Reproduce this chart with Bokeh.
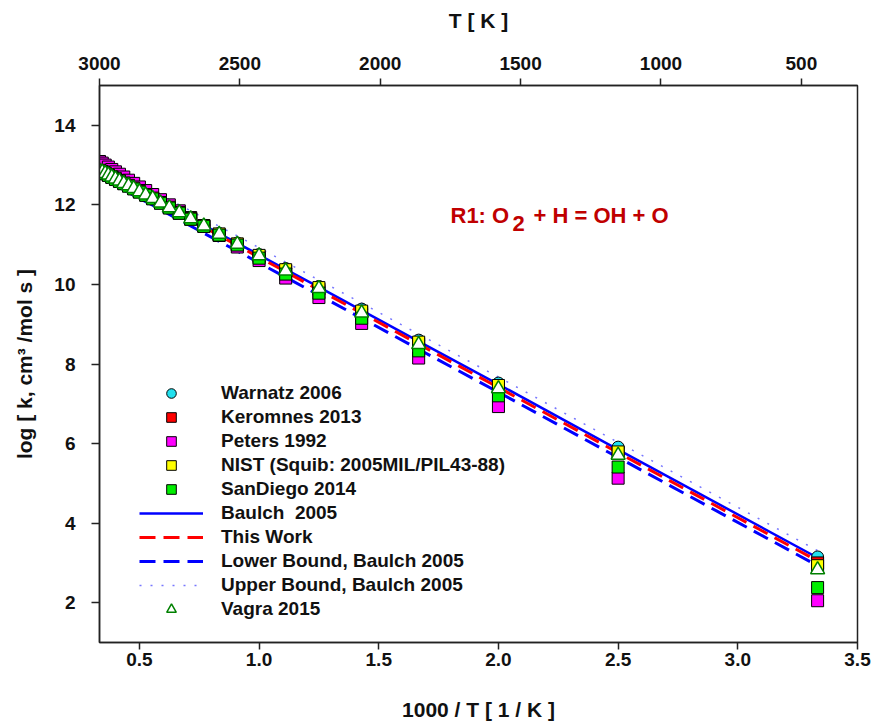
from bokeh.plotting import figure
from bokeh.models import (Range1d, LinearAxis, FixedTicker, Legend, LegendItem,
                          Label, PrintfTickFormatter)
from bokeh.embed import file_html
from bokeh.resources import INLINE

# ---------------- data ----------------
T_K = [3000, 2900, 2800, 2700, 2600, 2500, 2400, 2300, 2200, 2100, 2000,
       1900, 1800, 1700, 1600, 1500, 1400, 1300, 1200, 1100, 1000,
       900, 800, 700, 600, 500, 400, 300]

baulch = [12.88, 12.85, 12.81, 12.77, 12.72, 12.67, 12.62, 12.56, 12.50, 12.43, 12.35,
          12.27, 12.18, 12.07, 11.95, 11.82, 11.67, 11.49, 11.28, 11.04, 10.74,
          10.38, 9.93, 9.35, 8.57, 7.49, 5.85, 3.13]
this_work = [12.84, 12.81, 12.77, 12.73, 12.68, 12.63, 12.58, 12.52, 12.46, 12.39, 12.31,
             12.23, 12.14, 12.03, 11.91, 11.77, 11.62, 11.44, 11.23, 10.98, 10.68,
             10.32, 9.86, 9.28, 8.50, 7.41, 5.77, 3.05]
lower_bound = [12.70, 12.67, 12.63, 12.59, 12.54, 12.49, 12.44, 12.38, 12.31, 12.24, 12.16,
               12.08, 11.99, 11.88, 11.76, 11.62, 11.47, 11.29, 11.08, 10.84, 10.54,
               10.18, 9.73, 9.15, 8.37, 7.29, 5.65, 2.93]
upper_bound = [13.06, 13.03, 12.99, 12.95, 12.90, 12.85, 12.80, 12.74, 12.68, 12.61, 12.53,
               12.45, 12.36, 12.25, 12.13, 12.00, 11.85, 11.67, 11.46, 11.22, 10.92,
               10.56, 10.11, 9.53, 8.75, 7.67, 6.03, 3.31]

warnatz = [12.88, 12.85, 12.81, 12.77, 12.72, 12.67, 12.62, 12.56, 12.50, 12.43, 12.35,
           12.27, 12.18, 12.07, 11.95, 11.82, 11.67, 11.49, 11.28, 11.04, 10.75,
           10.40, 9.95, 9.38, 8.60, 7.52, 5.91, 3.15]
keromnes = [12.86, 12.83, 12.79, 12.75, 12.70, 12.65, 12.60, 12.54, 12.48, 12.41, 12.33,
            12.25, 12.16, 12.05, 11.93, 11.79, 11.64, 11.46, 11.25, 11.00, 10.70,
            10.34, 9.88, 9.30, 8.51, 7.42, 5.77, 3.00]
peters = [13.09, 13.05, 13.00, 12.95, 12.89, 12.83, 12.77, 12.70, 12.62, 12.54, 12.45,
          12.36, 12.26, 12.13, 12.00, 11.85, 11.68, 11.47, 11.23, 10.94, 10.60,
          10.16, 9.67, 9.02, 8.15, 6.93, 5.13, 2.05]
nist = [12.87, 12.84, 12.80, 12.76, 12.71, 12.66, 12.61, 12.55, 12.49, 12.42, 12.34,
        12.26, 12.17, 12.06, 11.94, 11.81, 11.66, 11.48, 11.27, 11.02, 10.73,
        10.37, 9.92, 9.33, 8.55, 7.46, 5.79, 2.93]
sandiego = [12.85, 12.82, 12.78, 12.74, 12.69, 12.64, 12.59, 12.53, 12.47, 12.40, 12.32,
            12.24, 12.15, 12.04, 11.92, 11.79, 11.64, 11.46, 11.24, 10.99, 10.66,
            10.26, 9.78, 9.15, 8.33, 7.20, 5.41, 2.38]
vagra = [12.86, 12.83, 12.79, 12.75, 12.70, 12.65, 12.60, 12.54, 12.48, 12.41, 12.33,
         12.25, 12.16, 12.05, 11.93, 11.80, 11.65, 11.47, 11.26, 11.01, 10.72,
         10.34, 9.90, 9.28, 8.49, 7.38, 5.71, 2.83]

x_ticks = [0.5, 1.0, 1.5, 2.0, 2.5, 3.0, 3.5]
y_ticks = [2, 4, 6, 8, 10, 12, 14]
t_ticks = [3000, 2500, 2000, 1500, 1000, 500]

inv_T = [1000.0 / t for t in T_K]

FONT = "Liberation Sans"

p = figure(width=873, height=723, x_range=Range1d(1000.0 / 3000.0, 3.5),
           y_range=Range1d(1, 15), output_backend="svg", toolbar_location=None,
           min_border_left=99, min_border_right=16, min_border_top=85,
           min_border_bottom=81, background_fill_color="white")
p.xgrid.visible = False
p.ygrid.visible = False
p.outline_line_color = "#222222"
p.outline_line_width = 1.5

p.extra_x_ranges = {"T": Range1d(3000, 300)}


def style_axis(ax, tick_out):
    ax.axis_line_color = "#222222"
    ax.axis_line_width = 1.5
    ax.major_tick_line_color = "#222222"
    ax.major_tick_line_width = 1.5
    ax.major_tick_out = tick_out
    ax.major_tick_in = 0
    ax.minor_tick_line_color = None
    ax.major_label_text_font = FONT
    ax.major_label_text_font_style = "bold"
    ax.major_label_text_font_size = "19px"
    ax.major_label_text_color = "#111111"
    ax.axis_label_text_font = FONT
    ax.axis_label_text_font_style = "bold"
    ax.axis_label_text_font_size = "21px"
    ax.axis_label_text_color = "#111111"


xb = p.below[0]
xb.ticker = FixedTicker(ticks=x_ticks)
xb.formatter = PrintfTickFormatter(format="%.1f")
xb.axis_label = "1000 / T [ 1 / K ]"
style_axis(xb, 7)
xb.major_label_standoff = 3
xb.axis_label_standoff = 29

yl = p.left[0]
yl.ticker = FixedTicker(ticks=y_ticks)
yl.axis_label = "log [ k, cm\u00b3 /mol s ]"
style_axis(yl, 8)
yl.major_label_standoff = 16
yl.axis_label_standoff = 15

top = LinearAxis(x_range_name="T", ticker=FixedTicker(ticks=t_ticks),
                 axis_label="T [ K ]")
style_axis(top, 7)
top.major_label_standoff = 9
top.axis_label_standoff = 22
p.add_layout(top, "above")

# ---------------- lines ----------------
r_baulch = p.line(inv_T, baulch, line_color="#0000ff", line_width=2.5)
r_this = p.line(inv_T, this_work, line_color="#ff0000", line_width=3, line_dash="16 8")
r_low = p.line(inv_T, lower_bound, line_color="#0000ff", line_width=3, line_dash="16 8")
r_up = p.line(inv_T, upper_bound, line_color="#7777ff", line_width=1.5, line_dash="2 9")

# ---------------- markers ----------------
r_w = p.scatter(inv_T, warnatz, marker="circle", size=12, fill_color="#22e0ee",
                line_color="black", line_width=1)
r_k = p.scatter(inv_T, keromnes, marker="square", size=12, fill_color="#ff0000",
                line_color="black", line_width=1)
r_p = p.scatter(inv_T, peters, marker="square", size=12, fill_color="#ff00ff",
                line_color="black", line_width=1)
r_n = p.scatter(inv_T, nist, marker="square", size=12, fill_color="#ffff00",
                line_color="black", line_width=1)
r_s = p.scatter(inv_T, sandiego, marker="square", size=12, fill_color="#00ee00",
                line_color="black", line_width=1)
r_v = p.scatter(inv_T, vagra, marker="triangle", size=14, fill_color="white",
                line_color="#008000", line_width=1.5)

items = [
    LegendItem(label="Warnatz 2006", renderers=[r_w]),
    LegendItem(label="Keromnes 2013", renderers=[r_k]),
    LegendItem(label="Peters 1992", renderers=[r_p]),
    LegendItem(label="NIST (Squib: 2005MIL/PIL43-88)", renderers=[r_n]),
    LegendItem(label="SanDiego 2014", renderers=[r_s]),
    LegendItem(label="Baulch  2005", renderers=[r_baulch]),
    LegendItem(label="This Work", renderers=[r_this]),
    LegendItem(label="Lower Bound, Baulch 2005", renderers=[r_low]),
    LegendItem(label="Upper Bound, Baulch 2005", renderers=[r_up]),
    LegendItem(label="Vagra 2015", renderers=[r_v]),
]
legend = Legend(items=items, location=(40, 21), padding=0, margin=0,
                glyph_width=64, glyph_height=24, label_height=24, spacing=0,
                label_standoff=18, label_text_font=FONT,
                label_text_font_style="bold", label_text_font_size="19px",
                label_text_color="#111111", background_fill_alpha=0,
                border_line_alpha=0)
p.add_layout(legend)

# ---------------- reaction title ----------------
TITLE_RED = "#c00000"
for txt, sx, sy in [("R1: O", 351, 427), ("2", 413, 419), ("+ H = OH + O", 434, 427)]:
    p.add_layout(Label(x=sx, y=sy, x_units="screen", y_units="screen", text=txt,
                       text_font=FONT, text_font_style="bold", text_font_size="22px",
                       text_color=TITLE_RED, text_baseline="alphabetic"))

open("out.html", "w").write(file_html(p, INLINE))
